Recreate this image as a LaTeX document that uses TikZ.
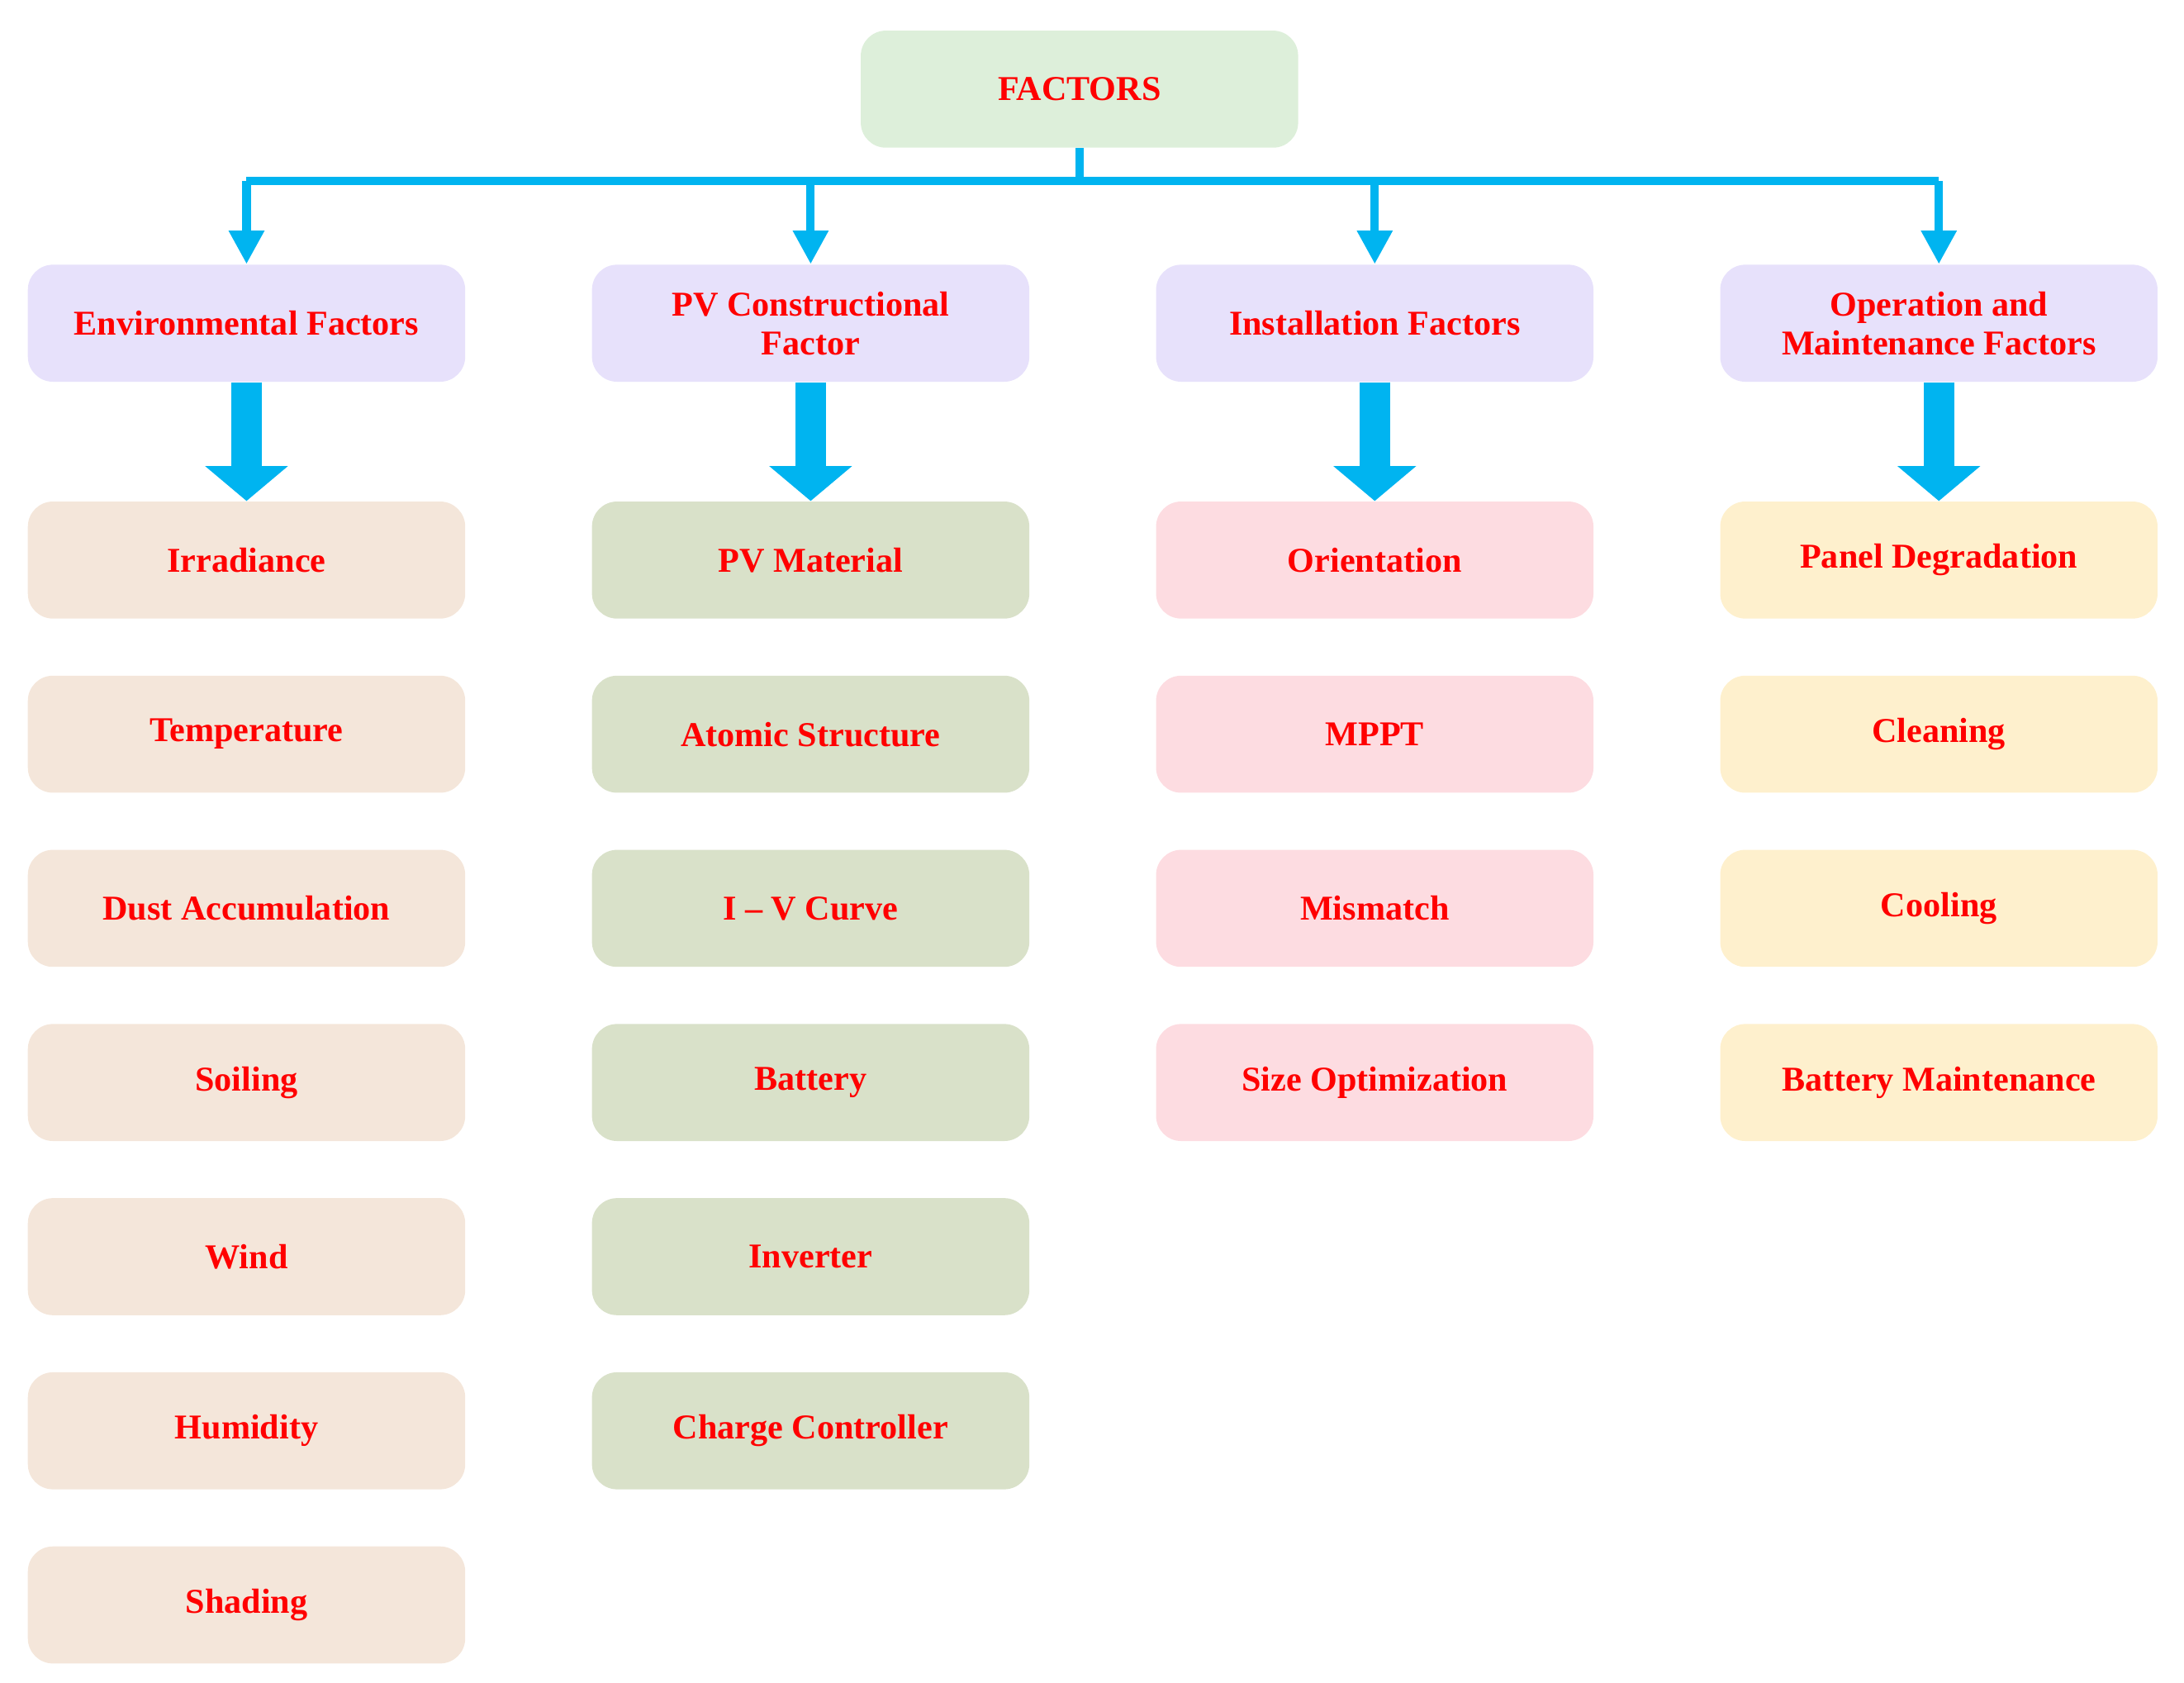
\documentclass[tikz,border=0pt]{standalone}
\usepackage{fontspec}
\setmainfont{Liberation Serif}
\usetikzlibrary{arrows.meta}
\definecolor{arr}{HTML}{00B4F0}
\definecolor{topc}{HTML}{DDEFDA}
\definecolor{catc}{HTML}{E7E1FB}
\definecolor{envc}{HTML}{F4E6DA}
\definecolor{pvc}{HTML}{D9E1C9}
\definecolor{insc}{HTML}{FDDCE1}
\definecolor{omc}{HTML}{FEF0CD}
\begin{document}
\begin{tikzpicture}[x=0.5pt,y=-0.5pt,
  box/.style={rounded corners=9pt,minimum width=157pt,minimum height=42pt,align=center,
    text=red,font=\fontsize{12.5}{14}\selectfont\bfseries,inner sep=2pt},
  thin/.style={draw=arr,line width=3pt},
  thinar/.style={thin,-{Triangle[width=12pt,length=12pt]}},
  thick/.style={draw=arr,line width=11pt,-{Triangle[width=29pt,length=12.5pt]},shorten >=0pt}]
\useasboundingbox (0,0) rectangle (1568,1208);
\node[box,fill=topc] (top) at (775,64) {FACTORS};
\foreach \n/\x/\t in {c1/177/Environmental Factors,c2/582/{PV Constructional\\Factor},c3/987/Installation Factors,c4/1392/{Operation and\\Maintenance Factors}}
  \node[box,fill=catc] (\n) at (\x,232) {\t};
\coordinate (j) at (775,130);
\draw[thin] (top.south) -- (j);
\foreach \n in {c1,c2,c3,c4}{
  \coordinate (h\n) at (\n |- j);
  \draw[thin] (j) -- (h\n);
  \draw[thinar] (h\n) -- (\n.north);}
\foreach \t [count=\i] in {Irradiance,Temperature,Dust Accumulation,Soiling,Wind,Humidity,Shading}
  \node[box,fill=envc] (e\i) at (177,277+125*\i) {\t};
\foreach \t [count=\i] in {PV Material,Atomic Structure,I – V Curve,Battery,Inverter,Charge Controller}
  \node[box,fill=pvc] (p\i) at (582,277+125*\i) {\t};
\foreach \t [count=\i] in {Orientation,MPPT,Mismatch,Size Optimization}
  \node[box,fill=insc] (s\i) at (987,277+125*\i) {\t};
\foreach \t [count=\i] in {Panel Degradation,Cleaning,Cooling,Battery Maintenance}
  \node[box,fill=omc] (o\i) at (1392,277+125*\i) {\t};
\draw[thick] (c1.south) -- (e1.north);
\draw[thick] (c2.south) -- (p1.north);
\draw[thick] (c3.south) -- (s1.north);
\draw[thick] (c4.south) -- (o1.north);
\end{tikzpicture}
\end{document}
